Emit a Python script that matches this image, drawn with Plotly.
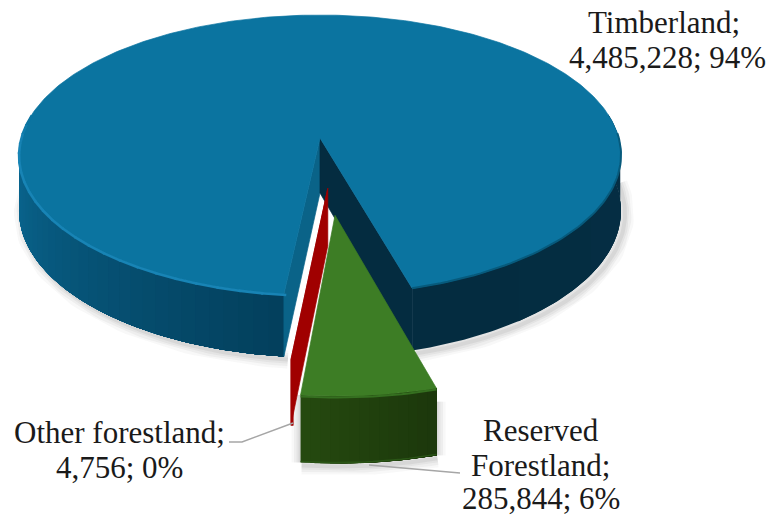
import numpy as np
import plotly.graph_objects as go

# ---- data ----
categories = ["Timberland", "Reserved Forestland", "Other forestland"]
values = [4485228, 285844, 4756]
percent_labels = ["94%", "6%", "0%"]
label_lines = [["Timberland;"], ["Reserved", "Forestland;"], ["Other forestland;"]]

# ---- pie geometry (projection of a tilted disc) ----
CX, CY, R, A, K, H = 320.0, 138.0, 298.8, 137.9, 0.1214, 55.0
FIRST_ANGLE = 6.1
EXPLODE = [(0.0, 0.0), (0.047, 0.525), (0.025, 0.35)]


def project(u, v, z=0.0):
    s = 1 / (1 - K * v)
    return CX + R * u * s, CY + A * v * s + H * z * s


def hexmix(c1, c2, t):
    a = [int(c1[i:i + 2], 16) for i in (1, 3, 5)]
    b = [int(c2[i:i + 2], 16) for i in (1, 3, 5)]
    return "#%02x%02x%02x" % tuple(round(x + (y - x) * t) for x, y in zip(a, b))


traces = []


def poly(pts, color, lw=0.7):
    xs = [p[0] for p in pts] + [pts[0][0]]
    ys = [p[1] for p in pts] + [pts[0][1]]
    traces.append(go.Scatter(x=xs, y=ys, mode="lines", fill="toself", fillcolor=color,
                             line=dict(color=color, width=lw), hoverinfo="skip", showlegend=False))


def line(pts, color, lw):
    traces.append(go.Scatter(x=[p[0] for p in pts], y=[p[1] for p in pts], mode="lines",
                             line=dict(color=color, width=lw), hoverinfo="skip", showlegend=False))


def pt(phi_deg, r, off, z=0.0):
    p = np.radians(phi_deg)
    return project(r * np.sin(p) + off[0], r * np.cos(p) + off[1], z)


def arc(a, b, off, z=0.0, r=1.0, n=60):
    return [pt(x, r, off, z) for x in np.linspace(a, b, n)]


def gradient_side(a, b, off, c1, c2, n):
    # painted left to right; each band runs to the far end, so no seams show
    for i in range(n):
        start = a + (b - a) * i / n
        poly(arc(start, b, off, 0, n=80) + arc(b, start, off, 1, n=80),
             hexmix(c1, c2, i / max(n - 1, 1)), 0)


def sector(a, b, off, c):
    poly([project(off[0], off[1])] + arc(a, b, off, n=200), c)


# slice angles from the values (clockwise from the front)
total = sum(values)
sweep = [v / total * 360 for v in values]
t0 = FIRST_ANGLE
edges = [t0]
for s in sweep:
    edges.append(edges[-1] + s)
blue_left = -edges[0]             # front-left edge of the big slice
blue_right = 360 - edges[1]       # front-right edge of the big slice
green_right, green_left = blue_right, 360 - edges[2]
red_right, red_left = green_left, 360 - edges[3]
O_B, O_G, O_R = EXPLODE

# soft shadow
for w, al in [(18, .035), (13, .05), (8, .06), (4, .07)]:
    shadow_color = f"rgba(60,60,60,{al})"
    line([(x + 4, y + 3) for x, y in arc(-95, blue_left, O_B, 1)], shadow_color, w)
    line([(x + 4, y + 3) for x, y in arc(blue_right, 95, O_B, 1)], shadow_color, w)
    line([(x + 1, y + 3) for x, y in arc(green_left, green_right, O_G, 1)], shadow_color, w)
    line([(x, y) for x, y in [pt(green_left, 1, O_G, 0), pt(green_left, 1, O_G, 1)]], shadow_color, w)
    line([(x, y) for x, y in [pt(green_right, 1, O_G, 0.2), pt(green_right, 1, O_G, 1)]], shadow_color, w)

# big slice: side, top, cut walls
gradient_side(-100, blue_left, O_B, "#0b6d99", "#03405d", 36)
gradient_side(blue_right, 100, O_B, "#042c40", "#052e44", 4)
poly([project(0, 0), pt(blue_left, 1, O_B), pt(blue_left, 1, O_B, 1), project(0, 0, 1)], "#0a6388")
poly([project(0, 0), pt(blue_right, 1, O_B), pt(blue_right, 1, O_B, 1), project(0, 0, 1)], "#042c40")
poly([project(0, 0)] + arc(blue_right, 360 + blue_left, O_B, n=400), "#0b74a0")
# rim highlights on the big slice
phis = np.linspace(-100, blue_left, 25)
for a, b in zip(phis[:-1], phis[1:]):
    t = (a + 100) / (blue_left + 100)
    col = "#1884b5" if t > .1 else hexmix("#0b74a0", "#1884b5", t / .1)
    line(arc(a, b + .4, O_B, 0.015, r=1, n=4), col, 2.6)
line(arc(blue_right, 92, O_B), "#075a7c", 2)

# small slice
poly([project(*O_R), pt(red_left, 1, O_R), pt(red_left, 1, O_R, 1), project(O_R[0], O_R[1], 1)], "#a00000")
poly([project(*O_R), pt(red_right, 1, O_R), pt(red_right, 1, O_R, 1), pt(red_left, 1, O_R, 1), pt(red_left, 1, O_R)], "#a00000")

# exploded slice
gradient_side(green_left, green_right, O_G, "#25490f", "#1c380c", 14)
line(arc(green_left, green_right, O_G, 0.985, n=20), "#2a5516", 1.5)
sector(green_left, green_right, O_G, "#3d7d25")
line(arc(green_left, green_right, O_G, 0.02, n=20), "#356f20", 2)

# leader lines
line([(229, 442), (242, 442), (293, 423)], "#a6a6a6", 1.5)
line([(369, 465), (453, 473), (460, 473)], "#a6a6a6", 1.5)

fig = go.Figure(traces)

# labels
label_centers = [(664, [22, 57]), (541, [430, 465, 498]), (119, [432, 467])]
for name_lines, val, pct, (cx, ys) in zip(label_lines, values, percent_labels, label_centers):
    lines = name_lines + [f"{val:,}; {pct}"]
    for i, (txt, y) in enumerate(zip(lines, ys)):
        x = cx + 3 if (cx == 664 and i == 1) else cx
        fig.add_annotation(x=x, y=y, xref="x", yref="y", text=txt, showarrow=False,
                           xanchor="center", yanchor="middle",
                           font=dict(family="Liberation Serif", size=31, color="#1a1a1a"))

fig.update_layout(
    width=771, height=516, margin=dict(l=0, r=0, t=0, b=0),
    paper_bgcolor="white", plot_bgcolor="white", showlegend=False,
    xaxis=dict(range=[0, 771], visible=False, fixedrange=True),
    yaxis=dict(range=[516, 0], visible=False, fixedrange=True),
)
fig.write_html("out.html", config={"displayModeBar": False},
               post_script="document.body.style.margin='0';document.documentElement.style.overflow='hidden';")
